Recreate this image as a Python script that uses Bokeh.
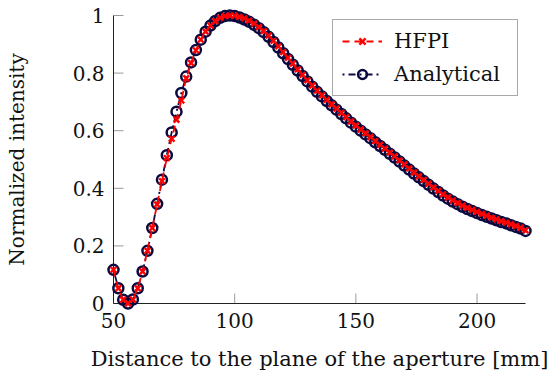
from bokeh.plotting import figure
from bokeh.models import Range1d, FixedTicker, LinearAxis, Legend, LegendItem
from bokeh.embed import file_html
from bokeh.resources import INLINE

# ---- data ----
distance_mm = [50, 52, 54, 56, 58, 60, 62, 64, 66, 68, 70, 72, 74, 76, 78, 80,
               82, 84, 86, 88, 90, 92, 94, 96, 98, 100, 102, 104, 106, 108, 110,
               112, 114, 116, 118, 120, 122, 124, 126, 128, 130, 132, 134, 136,
               138, 140, 142, 144, 146, 148, 150, 152, 154, 156, 158, 160, 162,
               164, 166, 168, 170, 172, 174, 176, 178, 180, 182, 184, 186, 188,
               190, 192, 194, 196, 198, 200, 202, 204, 206, 208, 210, 212, 214,
               216, 218, 220]

analytical = [0.117, 0.053, 0.013, 0.000, 0.014, 0.053, 0.111, 0.183, 0.262, 0.346,
              0.430, 0.515, 0.594, 0.666, 0.731, 0.788, 0.837, 0.880, 0.916, 0.944,
              0.965, 0.981, 0.992, 0.998, 1.000, 0.998, 0.993, 0.986, 0.978, 0.968,
              0.956, 0.942, 0.926, 0.908, 0.889, 0.869, 0.849, 0.829, 0.809, 0.790,
              0.771, 0.753, 0.735, 0.719, 0.703, 0.688, 0.673, 0.658, 0.643, 0.628,
              0.614, 0.600, 0.587, 0.574, 0.560, 0.547, 0.534, 0.520, 0.507, 0.493,
              0.479, 0.465, 0.451, 0.438, 0.425, 0.412, 0.399, 0.387, 0.375, 0.364,
              0.354, 0.345, 0.336, 0.328, 0.321, 0.314, 0.307, 0.301, 0.295, 0.289,
              0.283, 0.278, 0.272, 0.266, 0.260, 0.252]

hfpi = [0.117, 0.053, 0.013, 0.000, 0.014, 0.053, 0.111, 0.183, 0.262, 0.344,
        0.425, 0.505, 0.572, 0.638, 0.705, 0.782, 0.835, 0.879, 0.916, 0.944,
        0.965, 0.981, 0.992, 0.998, 1.000, 0.999, 0.995, 0.990, 0.982, 0.972,
        0.960, 0.946, 0.930, 0.912, 0.893, 0.873, 0.853, 0.833, 0.813, 0.794,
        0.775, 0.757, 0.739, 0.723, 0.707, 0.692, 0.677, 0.662, 0.647, 0.632,
        0.618, 0.604, 0.591, 0.578, 0.564, 0.551, 0.538, 0.524, 0.511, 0.497,
        0.483, 0.469, 0.455, 0.442, 0.429, 0.416, 0.403, 0.391, 0.379, 0.368,
        0.358, 0.349, 0.340, 0.332, 0.325, 0.318, 0.311, 0.305, 0.298, 0.292,
        0.286, 0.281, 0.275, 0.269, 0.263, 0.254]

x_ticks = [50, 100, 150, 200]
x_tick_labels = ["50", "100", "150", "200"]
y_ticks = [0, 0.2, 0.4, 0.6, 0.8, 1]
y_tick_labels = ["0", "0.2", "0.4", "0.6", "0.8", "1"]
x_limits = (50, 220)
y_limits = (0, 1)

FONT = "DejaVu Serif"
RED = "#ff0000"
NAVY = "#0a0a40"
TICK_LEN = 10  # px, ticks point inwards

# frame is padded a little so that markers at the limits are not clipped
px_per_x = 412 / 170.0
px_per_y = 288 / 1.0
pad_x = 7
pad_y = 8

p = figure(width=552, height=380, output_backend="svg", toolbar_location=None,
           x_range=Range1d(x_limits[0] - pad_x / px_per_x, x_limits[1] + pad_x / px_per_x),
           y_range=Range1d(y_limits[0] - pad_y / px_per_y, y_limits[1] + pad_y / px_per_y),
           x_axis_type=None, y_axis_type=None,
           min_border_left=106, min_border_right=20,
           min_border_top=7, min_border_bottom=69)
p.outline_line_color = None
p.background_fill_color = "white"
p.border_fill_color = "white"

def text_axis(ax, label_size):
    # axis used only for tick labels and the axis title (sits at the frame edge)
    ax.axis_line_color = None
    ax.major_tick_line_color = None
    ax.minor_tick_line_color = None
    ax.major_tick_in = 0
    ax.major_tick_out = 0
    ax.major_label_text_font = FONT
    ax.major_label_text_font_size = "20px"
    ax.major_label_text_color = "#111111"
    ax.axis_label_text_font = FONT
    ax.axis_label_text_font_size = label_size
    ax.axis_label_text_font_style = "normal"
    ax.axis_label_text_color = "#111111"

xlab = LinearAxis(ticker=FixedTicker(ticks=x_ticks),
                  major_label_overrides=dict(zip(x_ticks, x_tick_labels)),
                  axis_label="Distance to the plane of the aperture [mm]")
text_axis(xlab, "21px")
xlab.major_label_standoff = 1
xlab.axis_label_standoff = 16
p.add_layout(xlab, "below")

ylab = LinearAxis(ticker=FixedTicker(ticks=y_ticks),
                  major_label_overrides=dict(zip(y_ticks, y_tick_labels)),
                  axis_label="Normalized intensity")
text_axis(ylab, "20px")
ylab.major_label_standoff = 2
ylab.axis_label_standoff = 41
p.add_layout(ylab, "left")

# inward ticks (gray) and the two axis lines at x=50 / y=0
p.segment(x0=x_ticks, y0=[y_limits[0]] * len(x_ticks),
          x1=x_ticks, y1=[y_limits[0] + TICK_LEN / px_per_y] * len(x_ticks),
          line_color="#9a9a9a", line_width=1)
p.segment(x0=[x_limits[0]] * len(y_ticks), y0=y_ticks,
          x1=[x_limits[0] + TICK_LEN / px_per_x] * len(y_ticks), y1=y_ticks,
          line_color="#9a9a9a", line_width=1)
p.segment(x0=[x_limits[0], x_limits[0]], y0=[y_limits[0], y_limits[0]],
          x1=[x_limits[1], x_limits[0]], y1=[y_limits[0], y_limits[1]],
          line_color="#222222", line_width=1)

# Analytical (drawn first), HFPI on top
a_line = p.line(distance_mm, analytical, line_color=NAVY, line_width=1.8,
                line_dash="2 4 7 4")
a_mark = p.scatter(distance_mm, analytical, marker="circle", size=10,
                   line_color=NAVY, line_width=2.5, fill_color=None)
h_line = p.line(distance_mm, hfpi, line_color=RED, line_width=1.8, line_dash="7 5")
h_mark = p.scatter(distance_mm, hfpi, marker="x", size=8, line_color=RED,
                   line_width=2.4)

legend = Legend(items=[LegendItem(label="HFPI", renderers=[h_line, h_mark]),
                       LegendItem(label="Analytical", renderers=[a_line, a_mark])],
                location=(226, 215))
legend.label_text_font = FONT
legend.label_text_font_size = "21px"
legend.label_text_color = "#111111"
legend.glyph_width = 40
legend.glyph_height = 22
legend.label_standoff = 12
legend.label_width = 114
legend.spacing = 9
legend.padding = 9
legend.margin = 0
legend.border_line_color = "#555555"
legend.border_line_width = 1
legend.background_fill_color = "white"
legend.background_fill_alpha = 1
p.add_layout(legend, "center")

open("out.html", "w").write(file_html(p, INLINE))
